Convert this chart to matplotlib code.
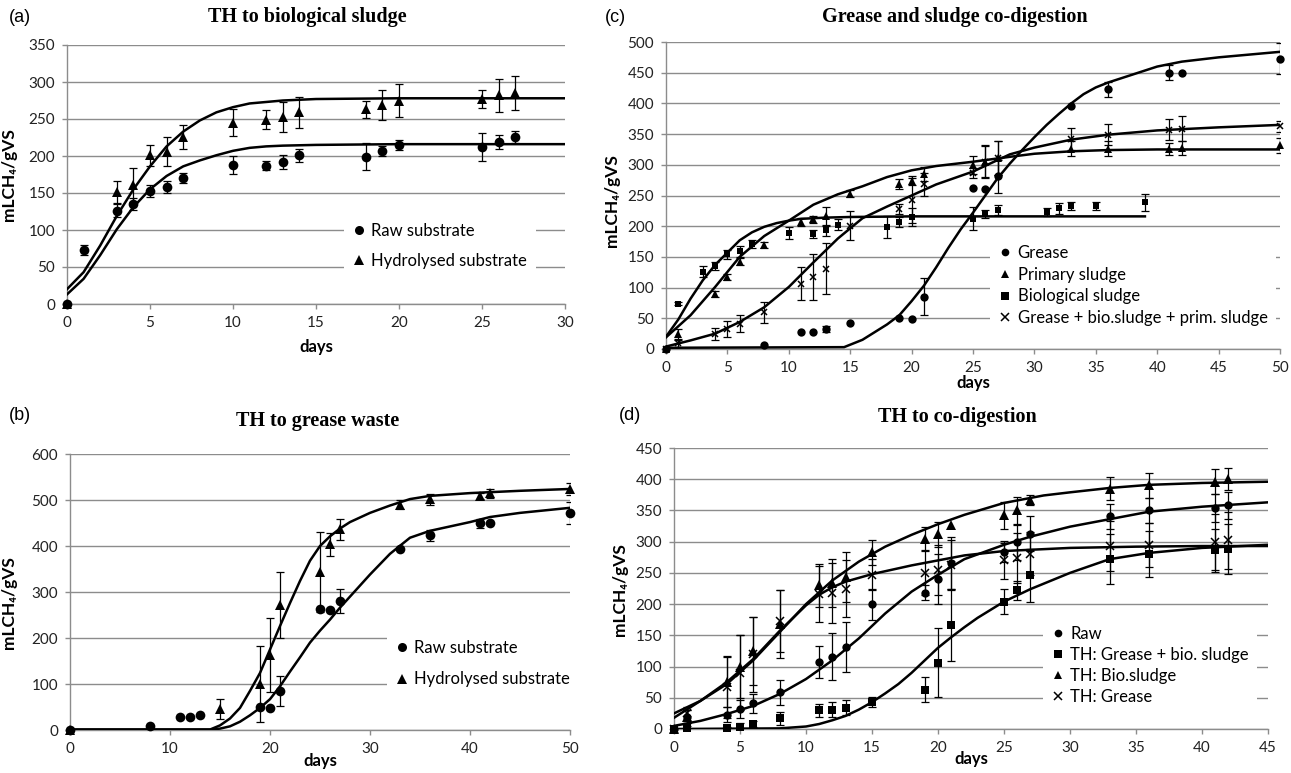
import numpy as np
import matplotlib
matplotlib.use('Agg')
from matplotlib import pyplot as plt
from matplotlib.lines import Line2D

W, H = 1291, 773
GRID = '#8c8c8c'
TICKFONT = ['Lato', 'DejaVu Sans']

# ---- (a) TH to biological sludge
raw_days_a = [0, 1, 3, 4, 5, 6, 7, 10, 12, 13, 14, 18, 19, 20, 25, 26, 27]
raw_a = [0, 73, 126, 135, 153, 158, 170, 188, 187, 192, 201, 199, 207, 215, 212, 219, 226]
raw_err_a = [0, 7, 9, 8, 8, 8, 7, 12, 6, 9, 9, 18, 7, 7, 19, 9, 8]
hyd_days_a = [0, 3, 4, 5, 6, 7, 10, 12, 13, 14, 18, 19, 20, 25, 26, 27]
hyd_a = [0, 151, 161, 201, 206, 226, 245, 249, 253, 259, 263, 269, 275, 277, 282, 285]
hyd_err_a = [0, 15, 23, 14, 20, 16, 18, 13, 20, 21, 12, 20, 22, 12, 22, 23]
fit_days_a = [0, 1, 2, 3, 4, 5, 6, 7, 8, 9, 10, 11, 12, 13, 15, 20, 30]
raw_fit_a = [13, 34, 66, 101, 131, 155, 173, 186, 194, 201, 207, 211, 213, 214, 215, 216, 216]
hyd_fit_a = [20, 43, 79, 119, 155, 186, 213, 233, 248, 259, 266, 271, 273, 275, 277, 278, 278]

# ---- (b) TH to grease waste
raw_days_b = [0, 8, 11, 12, 13, 19, 20, 21, 25, 26, 27, 33, 36, 41, 42, 50]
raw_b = [0, 9, 28, 28, 33, 51, 48, 85, 262, 260, 281, 394, 423, 449, 449, 472]
raw_err_b = [0, 0, 0, 0, 0, 0, 0, 32, 0, 0, 26, 0, 12, 10, 0, 24]
hyd_days_b = [0, 15, 19, 20, 21, 25, 26, 27, 33, 36, 41, 42, 50]
hyd_b = [0, 45, 100, 163, 272, 343, 404, 436, 490, 502, 509, 515, 524]
hyd_err_b = [0, 22, 82, 80, 72, 87, 25, 22, 10, 12, 6, 10, 14]
fit_days_b = [0, 10, 14, 15, 16, 17, 18, 19, 20, 21, 22, 23, 24, 25, 26, 27, 28, 30, 32, 34, 36, 40, 42, 45, 50]
raw_fit_b = [1, 1, 1, 3, 8, 18, 32, 48, 67, 95, 127, 158, 190, 216, 240, 266, 290, 338, 383, 418, 433, 452, 463, 472, 483]
hyd_fit_b = [1, 1, 1, 10, 25, 48, 85, 124, 175, 226, 276, 324, 368, 400, 421, 438, 452, 472, 488, 502, 509, 515, 517, 520, 524]

# ---- (c) Grease and sludge co-digestion
grease_days_c = [0, 8, 11, 12, 13, 15, 19, 20, 21, 25, 26, 27, 33, 36, 41, 42, 50]
grease_c = [0, 7, 27, 27, 32, 42, 50, 49, 85, 262, 260, 281, 396, 423, 450, 450, 473]
grease_err_c = [0, 0, 0, 0, 5, 0, 0, 0, 30, 0, 0, 27, 0, 12, 12, 0, 25]
prim_days_c = [0, 1, 4, 5, 6, 8, 11, 12, 13, 15, 19, 20, 21, 25, 26, 27, 33, 36, 41, 42, 50]
prim_c = [0, 24, 89, 117, 142, 169, 207, 211, 216, 253, 269, 274, 285, 300, 305, 311, 326, 326, 326, 327, 332]
prim_err_c = [0, 8, 5, 5, 6, 5, 7, 5, 15, 6, 8, 7, 12, 15, 25, 27, 12, 12, 10, 11, 12]
bio_days_c = [0, 1, 3, 4, 5, 6, 7, 10, 12, 13, 14, 18, 19, 20, 25, 26, 27, 31, 32, 33, 35, 39]
bio_c = [0, 74, 126, 135, 154, 159, 171, 189, 187, 193, 202, 199, 207, 215, 212, 220, 226, 223, 229, 233, 233, 239]
bio_err_c = [0, 3, 9, 6, 8, 9, 7, 10, 6, 9, 9, 18, 8, 14, 19, 7, 8, 6, 9, 7, 7, 14]
mix_days_c = [0, 1, 4, 5, 6, 8, 11, 12, 13, 15, 19, 20, 21, 25, 26, 27, 33, 36, 41, 42, 50]
mix_c = [0, 9, 25, 33, 41, 60, 106, 117, 131, 201, 228, 242, 268, 286, 305, 311, 342, 349, 357, 359, 363]
mix_err_c = [0, 5, 10, 13, 14, 17, 27, 37, 41, 24, 8, 36, 18, 8, 27, 28, 18, 17, 17, 20, 9]
bio_fit_days_c = [0, 1, 2, 3, 4, 5, 6, 7, 8, 9, 10, 11, 13, 15, 20, 39]
bio_fit_c = [20, 48, 82, 112, 137, 157, 177, 190, 199, 205, 209, 212, 214, 215, 216, 216]
prim_fit_days_c = [0, 2, 4, 6, 8, 10, 12, 14, 16, 18, 20, 22, 25, 28, 30, 33, 36, 40, 50]
prim_fit_c = [19, 55, 101, 150, 184, 209, 235, 252, 265, 280, 291, 298, 305, 313, 318, 322, 324, 325, 325]
mix_fit_days_c = [0, 2, 4, 6, 8, 10, 12, 14, 16, 18, 20, 22, 25, 28, 30, 33, 36, 40, 45, 50]
mix_fit_c = [4, 14, 25, 44, 68, 101, 141, 180, 213, 232, 250, 268, 289, 317, 328, 341, 349, 356, 361, 365]
grease_fit_days_c = [0, 14.5, 16, 18, 19, 20, 21, 22, 23, 24, 25, 26, 27, 28, 29, 30, 31, 32, 33, 34, 35, 36, 38, 40, 42, 45, 50]
grease_fit_c = [2, 3, 15, 40, 55, 78, 103, 133, 165, 195, 222, 250, 278, 302, 324, 345, 365, 383, 400, 415, 426, 434, 447, 460, 468, 475, 484]

# ---- (d) TH to co-digestion
days_d = [0, 1, 4, 5, 6, 8, 11, 12, 13, 15, 19, 20, 21, 25, 26, 27, 33, 36, 41, 42]
raw_d = [0, 20, 23, 32, 41, 59, 107, 116, 131, 200, 218, 240, 266, 283, 299, 313, 341, 350, 354, 358]
raw_err_d = [0, 10, 12, 15, 15, 20, 26, 38, 40, 25, 12, 40, 42, 15, 28, 28, 20, 20, 22, 22]
sq_d = [0, 2, 1, 4, 8, 17, 30, 31, 34, 43, 63, 106, 167, 204, 222, 246, 273, 280, 286, 289]
sq_err_d = [0, 3, 3, 5, 5, 10, 10, 12, 12, 8, 20, 55, 58, 20, 15, 42, 40, 37, 35, 40]
tri_d = [0, 20, 75, 100, 125, 168, 230, 234, 243, 283, 305, 312, 327, 342, 350, 367, 385, 390, 396, 400]
tri_err_d = [0, 10, 40, 50, 55, 55, 35, 38, 40, 20, 18, 20, 0, 22, 22, 8, 18, 20, 20, 18]
x_d = [0, 25, 67, 90, 120, 173, 216, 218, 225, 247, 250, 254, 263, 271, 274, 281, 293, 295, 300, 302]
x_err_d = [0, 10, 50, 60, 60, 50, 45, 48, 45, 25, 35, 40, 40, 30, 40, 35, 40, 35, 45, 45]
raw_fit_days_d = [0, 2, 4, 6, 8, 10, 12, 14, 16, 18, 20, 22, 25, 27, 30, 33, 36, 40, 45]
raw_fit_d = [5, 13, 24, 37, 56, 80, 110, 145, 185, 220, 247, 272, 295, 308, 324, 336, 348, 356, 363]
sq_fit_days_d = [0, 8, 10, 11, 12, 13, 14, 15, 16, 17, 18, 19, 20, 21, 22, 23, 25, 27, 30, 33, 36, 40, 45]
sq_fit_d = [0, 1, 4, 8, 14, 21, 31, 43, 57, 72, 90, 110, 130, 147, 163, 178, 204, 224, 250, 272, 282, 290, 295]
tri_fit_days_d = [0, 2, 4, 6, 8, 10, 12, 14, 16, 18, 20, 22, 25, 28, 30, 33, 36, 40, 45]
tri_fit_d = [25, 45, 72, 110, 155, 200, 238, 268, 292, 311, 328, 343, 362, 374, 379, 386, 391, 394, 396]
x_fit_days_d = [0, 2, 4, 6, 8, 10, 11, 12, 13, 15, 18, 20, 22, 25, 30, 35, 40, 45]
x_fit_d = [18, 45, 75, 112, 157, 198, 215, 227, 236, 248, 262, 270, 278, 285, 290, 292, 293, 293]


def make_axes(fig, left, right, top, bottom):
    return fig.add_axes([left / W, 1 - bottom / H, (right - left) / W, (bottom - top) / H])


def style_axes(ax, xmax, xstep, ymax, ystep):
    ax.set_xlim(0, xmax)
    ax.set_ylim(0, ymax)
    ax.set_xticks(np.arange(0, xmax + 0.1, xstep))
    ax.set_yticks(np.arange(0, ymax + 0.1, ystep))
    ax.yaxis.grid(True, color=GRID, lw=1.0)
    ax.set_axisbelow(True)
    for s in ['top', 'right']:
        ax.spines[s].set_visible(False)
    for s in ['left', 'bottom']:
        ax.spines[s].set_color(GRID)
        ax.spines[s].set_linewidth(1.0)
    ax.tick_params(direction='out', length=3.5, width=1.0, color=GRID,
                   labelsize=11, labelcolor='#222222', pad=5)
    for lab in ax.get_xticklabels() + ax.get_yticklabels():
        lab.set_family(TICKFONT)


def draw_series(ax, days, vals, errs, marker, ms):
    days = np.asarray(days, float)
    vals = np.asarray(vals, float)
    errs = np.asarray(errs, float)
    m = errs > 0
    ax.errorbar(days[m], vals[m], yerr=errs[m], fmt='none', ecolor='black',
                elinewidth=0.9, capsize=3, capthick=0.9, zorder=3)
    mew = 1.1 if marker == 'x' else 0
    ax.plot(days, vals, ls='none', marker=marker, color='black', ms=ms, mew=mew,
            zorder=4, clip_on=False)


def draw_fit(ax, days, vals):
    ax.plot(days, vals, color='black', lw=1.8, zorder=5, solid_joinstyle='round')


def add_labels(ax, ylab_x, ylab_y, xlab_y):
    ax.set_ylabel('mLCH₄/gVS', fontsize=12.5, fontweight='bold', family=['Lato', 'DejaVu Sans'])
    ax.yaxis.set_label_coords(ylab_x, ylab_y)
    ax.set_xlabel('days', fontsize=12, fontweight='bold', family=['Lato', 'DejaVu Sans'])
    ax.xaxis.set_label_coords(0.5, xlab_y)


def add_legend(ax, markers, labels, x, y, spacing, ms):
    handles = []
    for mk in markers:
        mew = 1.1 if mk == 'x' else 0
        handles.append(Line2D([], [], ls='none', marker=mk, color='black', ms=ms, mew=mew))
    leg = ax.legend(handles, labels, loc='center left', bbox_to_anchor=(x, y),
                    frameon=True, fancybox=False, framealpha=1, facecolor='white',
                    edgecolor='none', prop={'family': TICKFONT, 'size': 12},
                    handlelength=0.8, handletextpad=0.35, labelspacing=spacing,
                    borderpad=0.5, borderaxespad=0)
    leg.set_zorder(6)


def fig_text(x, y, s, **kw):
    fig.text(x / W, 1 - y / H, s, ha='center', va='center', **kw)


fig = plt.figure(figsize=(W / 100, H / 100), dpi=100)

title_kw = dict(family=['Liberation Serif', 'DejaVu Serif'], fontweight='bold', fontsize=14.5)
letter_kw = dict(family=['Liberation Sans', 'DejaVu Sans'], fontsize=13)

# (a)
ax_a = make_axes(fig, 67, 565, 45, 304)
style_axes(ax_a, 30, 5, 350, 50)
draw_fit(ax_a, fit_days_a, raw_fit_a)
draw_fit(ax_a, fit_days_a, hyd_fit_a)
draw_series(ax_a, raw_days_a, raw_a, raw_err_a, 'o', 7)
draw_series(ax_a, hyd_days_a, hyd_a, hyd_err_a, '^', 7)
add_labels(ax_a, -0.1, 0.5, -0.135)
add_legend(ax_a, ['o', '^'], ['Raw substrate', 'Hydrolysed substrate'], 0.556, 0.224, 0.8, 6.5)
fig_text(307, 17, 'TH to biological sludge', **title_kw)
fig_text(20, 17, '(a)', **letter_kw)

# (b)
ax_b = make_axes(fig, 70, 570, 454, 730)
style_axes(ax_b, 50, 10, 600, 100)
draw_fit(ax_b, fit_days_b, raw_fit_b)
draw_fit(ax_b, fit_days_b, hyd_fit_b)
draw_series(ax_b, raw_days_b, raw_b, raw_err_b, 'o', 7)
draw_series(ax_b, hyd_days_b, hyd_b, hyd_err_b, '^', 7)
add_labels(ax_b, -0.106, 0.46, -0.085)
add_legend(ax_b, ['o', '^'], ['Raw substrate', 'Hydrolysed substrate'], 0.634, 0.241, 0.95, 6.5)
fig_text(318, 421, 'TH to grease waste', **title_kw)
fig_text(20, 415, '(b)', **letter_kw)

# (c)
ax_c = make_axes(fig, 666, 1280, 42, 349)
style_axes(ax_c, 50, 5, 500, 50)
draw_fit(ax_c, bio_fit_days_c, bio_fit_c)
draw_fit(ax_c, prim_fit_days_c, prim_fit_c)
draw_fit(ax_c, mix_fit_days_c, mix_fit_c)
draw_fit(ax_c, grease_fit_days_c, grease_fit_c)
draw_series(ax_c, grease_days_c, grease_c, grease_err_c, 'o', 6)
draw_series(ax_c, prim_days_c, prim_c, prim_err_c, '^', 6)
draw_series(ax_c, bio_days_c, bio_c, bio_err_c, 's', 5)
draw_series(ax_c, mix_days_c, mix_c, mix_err_c, 'x', 5)
add_labels(ax_c, -0.075, 0.485, -0.085)
add_legend(ax_c, ['o', '^', 's', 'x'],
           ['Grease', 'Primary sludge', 'Biological sludge', 'Grease + bio.sludge + prim. sludge'],
           0.528, 0.207, 0.35, 5.5)
fig_text(955, 17, 'Grease and sludge co-digestion', **title_kw)
fig_text(615, 17, '(c)', **letter_kw)

# (d)
ax_d = make_axes(fig, 674, 1268, 448, 729)
style_axes(ax_d, 45, 5, 450, 50)
draw_fit(ax_d, raw_fit_days_d, raw_fit_d)
draw_fit(ax_d, sq_fit_days_d, sq_fit_d)
draw_fit(ax_d, tri_fit_days_d, tri_fit_d)
draw_fit(ax_d, x_fit_days_d, x_fit_d)
draw_series(ax_d, days_d, raw_d, raw_err_d, 'o', 6)
draw_series(ax_d, days_d, sq_d, sq_err_d, 's', 5.5)
draw_series(ax_d, days_d, tri_d, tri_err_d, '^', 6.5)
draw_series(ax_d, days_d, x_d, x_err_d, 'x', 6)
add_labels(ax_d, -0.077, 0.495, -0.08)
add_legend(ax_d, ['o', 's', '^', 'x'],
           ['Raw', 'TH: Grease + bio. sludge', 'TH: Bio.sludge', 'TH: Grease'],
           0.621, 0.226, 0.3, 5.5)
fig_text(957, 417, 'TH to co-digestion', **title_kw)
fig_text(630, 415, '(d)', **letter_kw)

fig.savefig('out.png', dpi=100)
